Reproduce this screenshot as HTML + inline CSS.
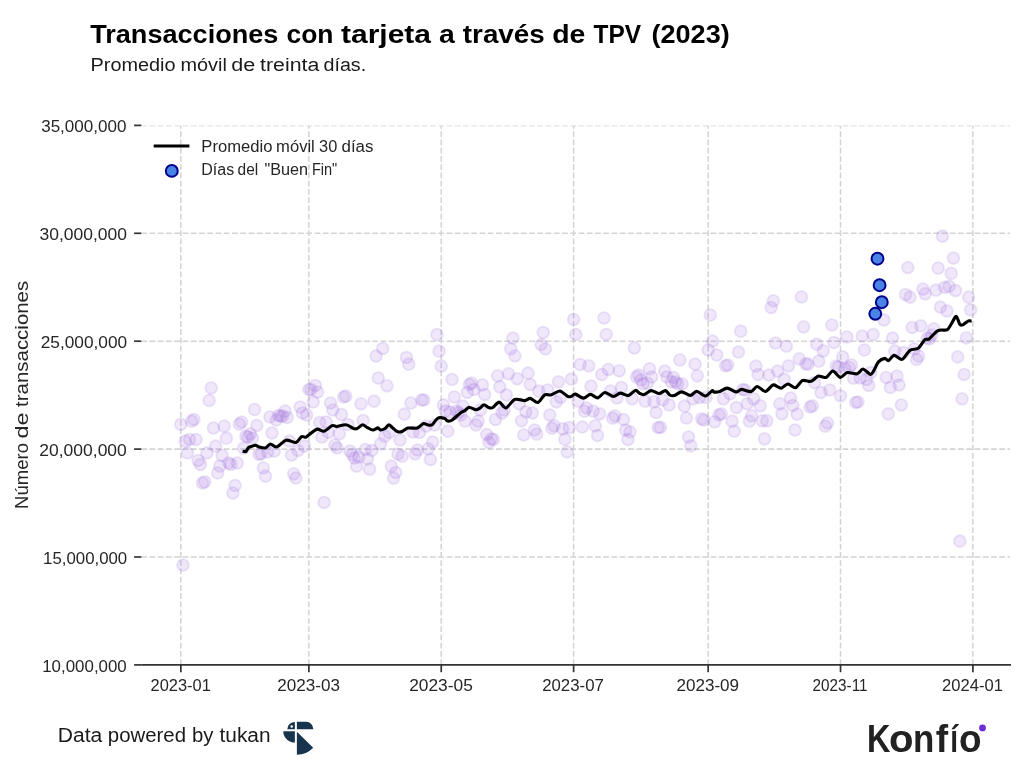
<!DOCTYPE html>
<html lang="es"><head><meta charset="utf-8"><title>Transacciones con tarjeta a través de TPV (2023)</title>
<style>html,body{margin:0;padding:0;background:#fff}body{width:1024px;height:777px;overflow:hidden}svg{display:block}text{font-family:"Liberation Sans",sans-serif}</style>
</head><body>
<svg width="1024" height="777" viewBox="0 0 1024 777">
<rect width="1024" height="777" fill="#fff"/>
<defs><clipPath id="axclip"><rect x="141.3" y="125.4" width="868.9" height="539.5"/></clipPath></defs>
<g stroke="#d4d4d4" stroke-width="1.55" stroke-dasharray="5.75 2.5" fill="none" clip-path="url(#axclip)">
<path d="M141.3 557.00H1010.2"/>
<path d="M141.3 449.10H1010.2"/>
<path d="M141.3 341.20H1010.2"/>
<path d="M141.3 233.30H1010.2"/>
<path d="M141.3 125.40H1010.2"/>
<path d="M180.85 664.9V125.4"/>
<path d="M308.88 664.9V125.4"/>
<path d="M441.25 664.9V125.4"/>
<path d="M573.62 664.9V125.4"/>
<path d="M708.16 664.9V125.4"/>
<path d="M840.53 664.9V125.4"/>
<path d="M972.90 664.9V125.4"/>
</g>
<g fill="#9868dc" fill-opacity="0.15" stroke="#9868dc" stroke-opacity="0.17" stroke-width="1.9">
<circle cx="180.8" cy="424.4" r="5.9"/>
<circle cx="183.0" cy="565.0" r="5.9"/>
<circle cx="185.2" cy="441.2" r="5.9"/>
<circle cx="187.4" cy="453.0" r="5.9"/>
<circle cx="189.5" cy="439.5" r="5.9"/>
<circle cx="191.7" cy="421.2" r="5.9"/>
<circle cx="193.9" cy="419.5" r="5.9"/>
<circle cx="196.0" cy="439.5" r="5.9"/>
<circle cx="198.2" cy="460.5" r="5.9"/>
<circle cx="200.4" cy="464.5" r="5.9"/>
<circle cx="202.5" cy="483.0" r="5.9"/>
<circle cx="204.7" cy="481.8" r="5.9"/>
<circle cx="206.9" cy="453.0" r="5.9"/>
<circle cx="209.1" cy="400.5" r="5.9"/>
<circle cx="211.2" cy="388.0" r="5.9"/>
<circle cx="213.4" cy="428.0" r="5.9"/>
<circle cx="215.6" cy="446.2" r="5.9"/>
<circle cx="217.7" cy="473.0" r="5.9"/>
<circle cx="219.9" cy="466.2" r="5.9"/>
<circle cx="222.1" cy="455.5" r="5.9"/>
<circle cx="224.2" cy="426.2" r="5.9"/>
<circle cx="226.4" cy="438.2" r="5.9"/>
<circle cx="228.6" cy="463.0" r="5.9"/>
<circle cx="230.8" cy="464.5" r="5.9"/>
<circle cx="232.9" cy="493.0" r="5.9"/>
<circle cx="235.1" cy="485.5" r="5.9"/>
<circle cx="237.3" cy="463.0" r="5.9"/>
<circle cx="239.4" cy="424.2" r="5.9"/>
<circle cx="241.6" cy="422.0" r="5.9"/>
<circle cx="243.8" cy="448.0" r="5.9"/>
<circle cx="245.9" cy="436.2" r="5.9"/>
<circle cx="248.1" cy="437.0" r="5.9"/>
<circle cx="250.3" cy="433.8" r="5.9"/>
<circle cx="252.5" cy="438.0" r="5.9"/>
<circle cx="254.6" cy="409.5" r="5.9"/>
<circle cx="256.8" cy="425.5" r="5.9"/>
<circle cx="259.0" cy="454.5" r="5.9"/>
<circle cx="261.1" cy="453.8" r="5.9"/>
<circle cx="263.3" cy="468.0" r="5.9"/>
<circle cx="265.5" cy="476.2" r="5.9"/>
<circle cx="267.6" cy="452.0" r="5.9"/>
<circle cx="269.8" cy="417.0" r="5.9"/>
<circle cx="272.0" cy="433.0" r="5.9"/>
<circle cx="274.2" cy="451.2" r="5.9"/>
<circle cx="276.3" cy="420.0" r="5.9"/>
<circle cx="278.5" cy="415.5" r="5.9"/>
<circle cx="280.7" cy="416.2" r="5.9"/>
<circle cx="282.8" cy="416.2" r="5.9"/>
<circle cx="285.0" cy="411.2" r="5.9"/>
<circle cx="287.2" cy="417.5" r="5.9"/>
<circle cx="289.4" cy="441.2" r="5.9"/>
<circle cx="291.5" cy="455.0" r="5.9"/>
<circle cx="293.7" cy="473.8" r="5.9"/>
<circle cx="295.9" cy="478.0" r="5.9"/>
<circle cx="298.0" cy="450.5" r="5.9"/>
<circle cx="300.2" cy="407.0" r="5.9"/>
<circle cx="302.4" cy="413.0" r="5.9"/>
<circle cx="304.5" cy="446.2" r="5.9"/>
<circle cx="306.7" cy="415.0" r="5.9"/>
<circle cx="308.9" cy="389.5" r="5.9"/>
<circle cx="311.0" cy="389.5" r="5.9"/>
<circle cx="313.2" cy="402.0" r="5.9"/>
<circle cx="315.4" cy="385.5" r="5.9"/>
<circle cx="317.6" cy="392.0" r="5.9"/>
<circle cx="319.7" cy="422.5" r="5.9"/>
<circle cx="321.9" cy="437.0" r="5.9"/>
<circle cx="324.1" cy="502.5" r="5.9"/>
<circle cx="326.2" cy="422.0" r="5.9"/>
<circle cx="328.4" cy="432.5" r="5.9"/>
<circle cx="330.6" cy="403.0" r="5.9"/>
<circle cx="332.8" cy="410.0" r="5.9"/>
<circle cx="334.9" cy="445.0" r="5.9"/>
<circle cx="337.1" cy="448.0" r="5.9"/>
<circle cx="339.3" cy="433.8" r="5.9"/>
<circle cx="341.4" cy="414.5" r="5.9"/>
<circle cx="343.6" cy="397.0" r="5.9"/>
<circle cx="345.8" cy="396.2" r="5.9"/>
<circle cx="347.9" cy="424.5" r="5.9"/>
<circle cx="350.1" cy="451.2" r="5.9"/>
<circle cx="352.3" cy="454.5" r="5.9"/>
<circle cx="354.4" cy="458.0" r="5.9"/>
<circle cx="356.6" cy="466.2" r="5.9"/>
<circle cx="358.8" cy="457.0" r="5.9"/>
<circle cx="361.0" cy="403.8" r="5.9"/>
<circle cx="363.1" cy="420.5" r="5.9"/>
<circle cx="365.3" cy="449.5" r="5.9"/>
<circle cx="367.5" cy="458.8" r="5.9"/>
<circle cx="369.6" cy="469.2" r="5.9"/>
<circle cx="371.8" cy="450.5" r="5.9"/>
<circle cx="374.0" cy="401.2" r="5.9"/>
<circle cx="376.1" cy="356.0" r="5.9"/>
<circle cx="378.3" cy="378.0" r="5.9"/>
<circle cx="380.5" cy="443.8" r="5.9"/>
<circle cx="382.7" cy="348.5" r="5.9"/>
<circle cx="384.8" cy="436.2" r="5.9"/>
<circle cx="387.0" cy="385.8" r="5.9"/>
<circle cx="389.2" cy="432.5" r="5.9"/>
<circle cx="391.3" cy="466.2" r="5.9"/>
<circle cx="393.5" cy="478.1" r="5.9"/>
<circle cx="395.7" cy="472.5" r="5.9"/>
<circle cx="397.9" cy="454.0" r="5.9"/>
<circle cx="400.0" cy="440.0" r="5.9"/>
<circle cx="402.2" cy="456.2" r="5.9"/>
<circle cx="404.4" cy="414.2" r="5.9"/>
<circle cx="406.5" cy="357.5" r="5.9"/>
<circle cx="408.7" cy="364.2" r="5.9"/>
<circle cx="410.9" cy="403.0" r="5.9"/>
<circle cx="413.0" cy="432.0" r="5.9"/>
<circle cx="415.2" cy="453.8" r="5.9"/>
<circle cx="417.4" cy="450.0" r="5.9"/>
<circle cx="419.5" cy="432.5" r="5.9"/>
<circle cx="421.7" cy="400.0" r="5.9"/>
<circle cx="423.9" cy="400.0" r="5.9"/>
<circle cx="426.1" cy="426.2" r="5.9"/>
<circle cx="428.2" cy="448.8" r="5.9"/>
<circle cx="430.4" cy="459.5" r="5.9"/>
<circle cx="432.6" cy="442.0" r="5.9"/>
<circle cx="434.7" cy="425.0" r="5.9"/>
<circle cx="436.9" cy="334.5" r="5.9"/>
<circle cx="439.1" cy="351.2" r="5.9"/>
<circle cx="441.2" cy="366.2" r="5.9"/>
<circle cx="443.4" cy="405.0" r="5.9"/>
<circle cx="445.6" cy="411.2" r="5.9"/>
<circle cx="447.8" cy="431.2" r="5.9"/>
<circle cx="449.9" cy="412.0" r="5.9"/>
<circle cx="452.1" cy="379.5" r="5.9"/>
<circle cx="454.3" cy="397.0" r="5.9"/>
<circle cx="456.4" cy="411.2" r="5.9"/>
<circle cx="458.6" cy="412.5" r="5.9"/>
<circle cx="460.8" cy="415.0" r="5.9"/>
<circle cx="462.9" cy="406.2" r="5.9"/>
<circle cx="465.1" cy="421.2" r="5.9"/>
<circle cx="467.3" cy="392.5" r="5.9"/>
<circle cx="469.5" cy="384.5" r="5.9"/>
<circle cx="471.6" cy="383.0" r="5.9"/>
<circle cx="473.8" cy="389.5" r="5.9"/>
<circle cx="476.0" cy="425.0" r="5.9"/>
<circle cx="478.1" cy="421.2" r="5.9"/>
<circle cx="480.3" cy="410.0" r="5.9"/>
<circle cx="482.5" cy="385.0" r="5.9"/>
<circle cx="484.6" cy="394.5" r="5.9"/>
<circle cx="486.8" cy="434.5" r="5.9"/>
<circle cx="489.0" cy="442.5" r="5.9"/>
<circle cx="491.2" cy="438.8" r="5.9"/>
<circle cx="493.3" cy="439.5" r="5.9"/>
<circle cx="495.5" cy="419.5" r="5.9"/>
<circle cx="497.7" cy="375.8" r="5.9"/>
<circle cx="499.8" cy="386.8" r="5.9"/>
<circle cx="502.0" cy="413.0" r="5.9"/>
<circle cx="504.2" cy="410.0" r="5.9"/>
<circle cx="506.4" cy="395.0" r="5.9"/>
<circle cx="508.5" cy="373.8" r="5.9"/>
<circle cx="510.7" cy="348.8" r="5.9"/>
<circle cx="512.9" cy="338.2" r="5.9"/>
<circle cx="515.0" cy="355.8" r="5.9"/>
<circle cx="517.2" cy="378.8" r="5.9"/>
<circle cx="519.4" cy="403.8" r="5.9"/>
<circle cx="521.5" cy="420.8" r="5.9"/>
<circle cx="523.7" cy="435.0" r="5.9"/>
<circle cx="525.9" cy="411.8" r="5.9"/>
<circle cx="528.0" cy="373.2" r="5.9"/>
<circle cx="530.2" cy="384.5" r="5.9"/>
<circle cx="532.4" cy="413.0" r="5.9"/>
<circle cx="534.6" cy="430.0" r="5.9"/>
<circle cx="536.7" cy="434.2" r="5.9"/>
<circle cx="538.9" cy="391.2" r="5.9"/>
<circle cx="541.1" cy="344.5" r="5.9"/>
<circle cx="543.2" cy="332.5" r="5.9"/>
<circle cx="545.4" cy="348.8" r="5.9"/>
<circle cx="547.6" cy="390.0" r="5.9"/>
<circle cx="549.8" cy="415.0" r="5.9"/>
<circle cx="551.9" cy="428.2" r="5.9"/>
<circle cx="554.1" cy="425.8" r="5.9"/>
<circle cx="556.3" cy="401.8" r="5.9"/>
<circle cx="558.4" cy="381.8" r="5.9"/>
<circle cx="560.6" cy="397.5" r="5.9"/>
<circle cx="562.8" cy="428.8" r="5.9"/>
<circle cx="564.9" cy="439.2" r="5.9"/>
<circle cx="567.1" cy="451.8" r="5.9"/>
<circle cx="569.3" cy="427.5" r="5.9"/>
<circle cx="571.4" cy="379.2" r="5.9"/>
<circle cx="573.6" cy="319.5" r="5.9"/>
<circle cx="575.8" cy="334.5" r="5.9"/>
<circle cx="578.0" cy="401.2" r="5.9"/>
<circle cx="580.1" cy="364.5" r="5.9"/>
<circle cx="582.3" cy="427.0" r="5.9"/>
<circle cx="584.5" cy="411.2" r="5.9"/>
<circle cx="586.6" cy="408.0" r="5.9"/>
<circle cx="588.8" cy="365.8" r="5.9"/>
<circle cx="591.0" cy="386.2" r="5.9"/>
<circle cx="593.1" cy="411.2" r="5.9"/>
<circle cx="595.3" cy="425.8" r="5.9"/>
<circle cx="597.5" cy="435.5" r="5.9"/>
<circle cx="599.7" cy="413.8" r="5.9"/>
<circle cx="601.8" cy="374.5" r="5.9"/>
<circle cx="604.0" cy="318.0" r="5.9"/>
<circle cx="606.2" cy="334.5" r="5.9"/>
<circle cx="608.3" cy="369.5" r="5.9"/>
<circle cx="610.5" cy="391.2" r="5.9"/>
<circle cx="612.7" cy="418.2" r="5.9"/>
<circle cx="614.9" cy="415.8" r="5.9"/>
<circle cx="617.0" cy="398.0" r="5.9"/>
<circle cx="619.2" cy="370.8" r="5.9"/>
<circle cx="621.4" cy="387.5" r="5.9"/>
<circle cx="623.5" cy="419.5" r="5.9"/>
<circle cx="625.7" cy="430.0" r="5.9"/>
<circle cx="627.9" cy="439.5" r="5.9"/>
<circle cx="630.0" cy="431.8" r="5.9"/>
<circle cx="632.2" cy="398.8" r="5.9"/>
<circle cx="634.4" cy="348.0" r="5.9"/>
<circle cx="636.5" cy="376.8" r="5.9"/>
<circle cx="638.7" cy="375.0" r="5.9"/>
<circle cx="640.9" cy="380.0" r="5.9"/>
<circle cx="643.1" cy="383.8" r="5.9"/>
<circle cx="645.2" cy="401.2" r="5.9"/>
<circle cx="647.4" cy="383.2" r="5.9"/>
<circle cx="649.6" cy="368.8" r="5.9"/>
<circle cx="651.7" cy="377.0" r="5.9"/>
<circle cx="653.9" cy="401.8" r="5.9"/>
<circle cx="656.1" cy="412.5" r="5.9"/>
<circle cx="658.2" cy="427.5" r="5.9"/>
<circle cx="660.4" cy="427.5" r="5.9"/>
<circle cx="662.6" cy="400.0" r="5.9"/>
<circle cx="664.8" cy="371.2" r="5.9"/>
<circle cx="666.9" cy="377.0" r="5.9"/>
<circle cx="669.1" cy="405.0" r="5.9"/>
<circle cx="671.3" cy="381.8" r="5.9"/>
<circle cx="673.4" cy="377.5" r="5.9"/>
<circle cx="675.6" cy="381.8" r="5.9"/>
<circle cx="677.8" cy="383.8" r="5.9"/>
<circle cx="679.9" cy="360.0" r="5.9"/>
<circle cx="682.1" cy="383.8" r="5.9"/>
<circle cx="684.3" cy="406.2" r="5.9"/>
<circle cx="686.5" cy="418.0" r="5.9"/>
<circle cx="688.6" cy="437.0" r="5.9"/>
<circle cx="690.8" cy="445.8" r="5.9"/>
<circle cx="693.0" cy="398.8" r="5.9"/>
<circle cx="695.1" cy="364.2" r="5.9"/>
<circle cx="697.3" cy="375.8" r="5.9"/>
<circle cx="699.5" cy="397.5" r="5.9"/>
<circle cx="701.6" cy="418.8" r="5.9"/>
<circle cx="703.8" cy="420.0" r="5.9"/>
<circle cx="706.0" cy="397.5" r="5.9"/>
<circle cx="708.2" cy="350.0" r="5.9"/>
<circle cx="710.3" cy="315.0" r="5.9"/>
<circle cx="712.5" cy="341.2" r="5.9"/>
<circle cx="714.7" cy="421.8" r="5.9"/>
<circle cx="716.8" cy="355.0" r="5.9"/>
<circle cx="719.0" cy="415.0" r="5.9"/>
<circle cx="721.2" cy="413.8" r="5.9"/>
<circle cx="723.4" cy="398.8" r="5.9"/>
<circle cx="725.5" cy="365.8" r="5.9"/>
<circle cx="727.7" cy="365.0" r="5.9"/>
<circle cx="729.9" cy="393.8" r="5.9"/>
<circle cx="732.0" cy="421.2" r="5.9"/>
<circle cx="734.2" cy="431.2" r="5.9"/>
<circle cx="736.4" cy="407.5" r="5.9"/>
<circle cx="738.5" cy="352.0" r="5.9"/>
<circle cx="740.7" cy="331.2" r="5.9"/>
<circle cx="742.9" cy="389.5" r="5.9"/>
<circle cx="745.0" cy="390.0" r="5.9"/>
<circle cx="747.2" cy="403.8" r="5.9"/>
<circle cx="749.4" cy="421.2" r="5.9"/>
<circle cx="751.6" cy="415.8" r="5.9"/>
<circle cx="753.7" cy="398.8" r="5.9"/>
<circle cx="755.9" cy="366.2" r="5.9"/>
<circle cx="758.1" cy="374.5" r="5.9"/>
<circle cx="760.2" cy="405.8" r="5.9"/>
<circle cx="762.4" cy="420.8" r="5.9"/>
<circle cx="764.6" cy="438.8" r="5.9"/>
<circle cx="766.8" cy="420.8" r="5.9"/>
<circle cx="768.9" cy="375.0" r="5.9"/>
<circle cx="771.1" cy="307.5" r="5.9"/>
<circle cx="773.3" cy="300.8" r="5.9"/>
<circle cx="775.4" cy="343.0" r="5.9"/>
<circle cx="777.6" cy="371.2" r="5.9"/>
<circle cx="779.8" cy="403.8" r="5.9"/>
<circle cx="781.9" cy="413.8" r="5.9"/>
<circle cx="784.1" cy="379.2" r="5.9"/>
<circle cx="786.3" cy="346.2" r="5.9"/>
<circle cx="788.5" cy="365.8" r="5.9"/>
<circle cx="790.6" cy="398.0" r="5.9"/>
<circle cx="792.8" cy="405.5" r="5.9"/>
<circle cx="795.0" cy="430.0" r="5.9"/>
<circle cx="797.1" cy="414.2" r="5.9"/>
<circle cx="799.3" cy="358.8" r="5.9"/>
<circle cx="801.5" cy="297.0" r="5.9"/>
<circle cx="803.6" cy="326.8" r="5.9"/>
<circle cx="805.8" cy="363.8" r="5.9"/>
<circle cx="808.0" cy="364.2" r="5.9"/>
<circle cx="810.1" cy="407.0" r="5.9"/>
<circle cx="812.3" cy="405.8" r="5.9"/>
<circle cx="814.5" cy="382.5" r="5.9"/>
<circle cx="816.7" cy="344.2" r="5.9"/>
<circle cx="818.8" cy="361.2" r="5.9"/>
<circle cx="821.0" cy="392.5" r="5.9"/>
<circle cx="823.2" cy="350.8" r="5.9"/>
<circle cx="825.3" cy="426.2" r="5.9"/>
<circle cx="827.5" cy="423.0" r="5.9"/>
<circle cx="829.7" cy="390.0" r="5.9"/>
<circle cx="831.9" cy="325.0" r="5.9"/>
<circle cx="834.0" cy="342.5" r="5.9"/>
<circle cx="836.2" cy="366.2" r="5.9"/>
<circle cx="838.4" cy="367.0" r="5.9"/>
<circle cx="840.5" cy="395.8" r="5.9"/>
<circle cx="842.7" cy="357.0" r="5.9"/>
<circle cx="844.9" cy="368.8" r="5.9"/>
<circle cx="847.0" cy="337.0" r="5.9"/>
<circle cx="849.2" cy="367.5" r="5.9"/>
<circle cx="851.4" cy="365.0" r="5.9"/>
<circle cx="853.5" cy="378.2" r="5.9"/>
<circle cx="855.7" cy="402.5" r="5.9"/>
<circle cx="857.9" cy="402.0" r="5.9"/>
<circle cx="860.1" cy="378.0" r="5.9"/>
<circle cx="862.2" cy="336.2" r="5.9"/>
<circle cx="864.4" cy="350.0" r="5.9"/>
<circle cx="866.6" cy="379.5" r="5.9"/>
<circle cx="868.7" cy="385.5" r="5.9"/>
<circle cx="870.9" cy="372.5" r="5.9"/>
<circle cx="873.1" cy="334.5" r="5.9"/>
<circle cx="883.9" cy="320.0" r="5.9"/>
<circle cx="886.1" cy="377.5" r="5.9"/>
<circle cx="888.3" cy="413.8" r="5.9"/>
<circle cx="890.4" cy="387.5" r="5.9"/>
<circle cx="892.6" cy="338.0" r="5.9"/>
<circle cx="894.8" cy="351.2" r="5.9"/>
<circle cx="897.0" cy="376.2" r="5.9"/>
<circle cx="899.1" cy="385.0" r="5.9"/>
<circle cx="901.3" cy="405.0" r="5.9"/>
<circle cx="903.5" cy="352.5" r="5.9"/>
<circle cx="905.6" cy="294.6" r="5.9"/>
<circle cx="907.8" cy="267.6" r="5.9"/>
<circle cx="910.0" cy="297.1" r="5.9"/>
<circle cx="912.1" cy="327.5" r="5.9"/>
<circle cx="914.3" cy="348.8" r="5.9"/>
<circle cx="916.5" cy="359.5" r="5.9"/>
<circle cx="918.6" cy="356.2" r="5.9"/>
<circle cx="920.8" cy="325.9" r="5.9"/>
<circle cx="923.0" cy="289.1" r="5.9"/>
<circle cx="925.2" cy="293.8" r="5.9"/>
<circle cx="927.3" cy="338.0" r="5.9"/>
<circle cx="929.5" cy="339.0" r="5.9"/>
<circle cx="931.7" cy="335.0" r="5.9"/>
<circle cx="933.8" cy="328.8" r="5.9"/>
<circle cx="936.0" cy="290.2" r="5.9"/>
<circle cx="938.2" cy="268.2" r="5.9"/>
<circle cx="940.4" cy="307.2" r="5.9"/>
<circle cx="942.5" cy="236.2" r="5.9"/>
<circle cx="944.7" cy="287.4" r="5.9"/>
<circle cx="946.9" cy="311.0" r="5.9"/>
<circle cx="949.0" cy="286.4" r="5.9"/>
<circle cx="951.2" cy="273.4" r="5.9"/>
<circle cx="953.4" cy="258.1" r="5.9"/>
<circle cx="955.5" cy="290.6" r="5.9"/>
<circle cx="957.7" cy="356.9" r="5.9"/>
<circle cx="959.9" cy="541.2" r="5.9"/>
<circle cx="962.0" cy="398.8" r="5.9"/>
<circle cx="964.2" cy="374.5" r="5.9"/>
<circle cx="966.4" cy="337.8" r="5.9"/>
<circle cx="968.6" cy="297.2" r="5.9"/>
<circle cx="970.7" cy="309.9" r="5.9"/>
</g>
<path d="M242.6 451.2L245.9 451.8L248.4 447.6C248.8 447.4 250.2 446.8 251.2 446.5C252.2 446.2 254.4 445.2 255.5 445.3C256.6 445.4 257.7 446.5 259.1 446.9C260.5 447.3 263.8 448.3 265.4 447.9C267.0 447.5 268.8 444.1 270.4 444.0C272.0 443.9 274.4 447.4 276.6 446.9C278.8 446.4 283.3 440.9 286.0 440.2C288.7 439.6 293.8 443.0 296.0 442.5C298.2 442.0 300.2 437.3 301.6 436.6C303.0 435.9 304.7 437.7 306.0 437.2C307.3 436.8 309.4 434.2 311.0 433.1C312.6 432.0 315.4 429.4 317.2 429.1C319.1 428.8 322.0 431.7 324.1 431.2C326.2 430.8 330.5 426.3 332.2 425.6C334.0 424.9 334.7 426.7 336.6 426.6C338.5 426.5 343.6 424.5 346.0 424.8C348.4 425.0 351.9 428.0 353.5 428.5C355.1 429.0 356.0 429.0 357.2 428.5C358.5 428.0 361.1 424.9 362.5 424.8C363.9 424.6 365.8 426.8 367.2 427.5C368.7 428.2 371.4 429.9 372.9 430.0C374.4 430.1 376.8 427.9 377.9 427.9C378.9 427.9 379.4 429.9 380.4 430.0C381.4 430.1 383.8 429.2 385.0 428.5C386.2 427.8 387.7 424.9 388.8 424.8C389.8 424.6 391.1 426.6 392.2 427.5C393.4 428.4 395.9 430.9 397.2 431.5C398.6 432.1 400.8 432.0 402.2 431.5C403.7 431.0 405.8 428.6 407.9 428.1C410.0 427.6 415.1 428.7 417.2 428.1C419.4 427.5 422.0 423.9 423.5 423.5C425.0 423.1 426.7 424.8 427.9 425.0C429.1 425.2 430.9 425.7 432.2 424.8C433.6 423.8 436.1 419.0 437.9 418.1C439.6 417.2 443.4 418.0 444.8 418.4C446.1 418.8 446.4 420.8 447.5 421.0C448.6 421.2 450.4 421.2 452.2 420.0C454.1 418.8 459.2 413.8 461.0 412.5C462.8 411.2 463.6 411.3 464.8 410.6C465.9 409.9 467.5 407.4 469.1 407.2C470.7 407.1 474.5 409.7 476.0 409.8C477.5 409.9 478.6 408.8 479.8 408.1C480.9 407.4 482.9 404.8 484.1 404.8C485.3 404.7 487.3 407.1 488.5 407.5C489.7 407.9 491.4 408.3 492.9 407.5C494.4 406.7 497.3 402.0 499.1 402.1C500.9 402.2 503.8 408.3 506.0 407.9C508.2 407.5 512.1 400.4 514.8 399.4C517.4 398.4 522.6 400.7 524.8 400.6C526.9 400.5 528.6 398.1 530.4 398.4C532.2 398.7 535.9 403.0 537.9 402.5C539.9 402.0 542.9 395.8 544.8 394.8C546.6 393.7 548.9 395.5 551.0 395.0C553.1 394.5 557.4 390.8 559.8 391.0C562.1 391.2 566.2 395.8 567.9 396.5C569.6 397.2 570.6 396.6 571.6 396.2C572.6 395.9 573.7 393.8 575.4 394.1C577.1 394.4 581.4 398.1 583.5 398.1C585.6 398.1 588.4 394.4 590.4 394.4C592.4 394.4 595.9 398.2 597.9 397.9C599.9 397.6 602.6 392.7 604.8 392.5C606.9 392.3 611.3 396.4 613.5 396.5C615.7 396.6 618.3 393.2 620.4 393.1C622.5 393.0 626.4 396.0 628.5 395.6C630.6 395.2 633.8 390.7 635.4 390.4C637.0 390.1 638.5 392.9 639.8 393.5C641.0 394.1 642.5 395.0 644.1 394.6C645.7 394.2 648.9 390.8 651.0 390.6C653.1 390.4 657.1 393.5 659.1 393.5C661.1 393.5 663.9 390.4 665.4 390.6C666.9 390.8 668.5 394.3 669.8 395.0C671.0 395.7 672.4 396.0 674.1 395.6C675.8 395.2 679.3 391.9 681.6 391.9C683.9 391.9 688.3 395.5 690.4 395.4C692.5 395.3 694.5 391.2 696.6 391.2C698.7 391.3 703.2 396.1 705.4 396.0C707.6 395.9 711.0 391.1 712.2 390.6C713.5 390.1 713.1 392.0 714.1 392.1C715.1 392.2 717.9 392.1 719.8 391.5C721.6 390.9 725.0 388.0 727.2 388.1C729.5 388.2 734.0 391.7 736.0 391.9C738.0 392.1 739.5 389.4 741.6 389.4C743.7 389.4 748.8 392.0 751.0 391.6C753.2 391.2 755.2 386.5 757.2 386.5C759.3 386.5 763.2 391.7 765.4 391.5C767.6 391.3 771.1 385.6 772.9 385.0C774.6 384.4 776.7 386.5 777.9 386.9C779.1 387.3 780.2 388.5 781.6 388.1C783.0 387.7 786.0 384.0 787.9 384.0C789.8 384.0 793.4 388.2 795.4 387.8C797.4 387.3 800.5 381.5 802.2 380.6C804.0 379.7 806.6 381.2 807.9 381.2C809.2 381.3 810.2 381.9 811.6 381.2C813.0 380.6 816.4 376.9 817.9 376.2C819.4 375.6 821.0 376.8 822.2 376.9C823.5 377.0 825.1 378.1 826.6 377.2C828.1 376.4 831.0 371.0 832.9 371.0C834.8 371.0 838.4 377.2 840.4 377.4C842.4 377.6 844.9 373.0 847.2 372.5C849.6 372.0 855.1 374.2 857.2 373.8C859.4 373.3 861.1 368.9 862.9 369.0C864.7 369.1 868.9 374.1 870.4 374.4C871.9 374.7 872.4 373.0 873.5 371.2C874.6 369.5 876.9 363.7 878.5 361.9C880.1 360.1 883.4 358.6 884.8 358.4C886.1 358.2 887.2 361.0 888.5 360.6C889.8 360.2 892.2 355.4 894.1 355.2C896.0 355.1 900.1 360.1 902.2 359.4C904.4 358.7 907.5 352.0 909.8 350.4C912.0 348.8 916.1 349.8 918.2 348.3C920.3 346.8 923.2 341.0 924.8 339.7C926.3 338.4 927.3 340.2 929.1 338.9C930.9 337.6 935.4 331.9 937.9 330.6C940.4 329.3 945.2 330.7 947.0 329.9C948.8 329.1 949.5 326.8 950.7 325.0C951.9 323.2 954.5 317.9 955.4 316.9C956.3 315.9 956.6 316.7 957.2 317.8C957.9 318.8 959.0 323.4 959.8 324.4C960.5 325.4 961.7 325.2 962.9 324.8C964.1 324.3 967.3 321.4 968.5 320.9C969.7 320.4 971.2 321.2 971.6 321.2" fill="none" stroke="#000" stroke-width="3.1" stroke-linejoin="round" stroke-linecap="butt"/>
<g fill="#4a83e6" stroke="#00008b" stroke-width="2">
<circle cx="877.5" cy="258.7" r="5.95"/>
<circle cx="879.6" cy="285.2" r="5.95"/>
<circle cx="881.8" cy="302.2" r="5.95"/>
<circle cx="875.3" cy="313.8" r="5.95"/>
</g>
<g stroke="#333" stroke-width="1.7" fill="none">
<path d="M141.3 664.9H1011.0"/>
<path d="M134.10000000000002 664.90H141.3"/>
<path d="M134.10000000000002 557.00H141.3"/>
<path d="M134.10000000000002 449.10H141.3"/>
<path d="M134.10000000000002 341.20H141.3"/>
<path d="M134.10000000000002 233.30H141.3"/>
<path d="M134.10000000000002 125.40H141.3"/>
<path d="M180.85 664.9v7.3"/>
<path d="M308.88 664.9v7.3"/>
<path d="M441.25 664.9v7.3"/>
<path d="M573.62 664.9v7.3"/>
<path d="M708.16 664.9v7.3"/>
<path d="M840.53 664.9v7.3"/>
<path d="M972.90 664.9v7.3"/>
</g>
<g fill="#262626" font-size="16.4">
<text x="42.2" y="671.5" textLength="84.6" lengthAdjust="spacingAndGlyphs">10,000,000</text>
<text x="43.08" y="563.6" textLength="84.15" lengthAdjust="spacingAndGlyphs">15,000,000</text>
<text x="39.25" y="455.7" textLength="87.6" lengthAdjust="spacingAndGlyphs">20,000,000</text>
<text x="40.7" y="347.8" textLength="86.42" lengthAdjust="spacingAndGlyphs">25,000,000</text>
<text x="39.45" y="239.9" textLength="87.6" lengthAdjust="spacingAndGlyphs">30,000,000</text>
<text x="41.15" y="132.0" textLength="85.42" lengthAdjust="spacingAndGlyphs">35,000,000</text>
</g>
<g fill="#262626" font-size="16.4">
<text x="150.57" y="691.0" textLength="60.29" lengthAdjust="spacingAndGlyphs">2023-01</text>
<text x="277.25" y="691.0" textLength="62.81" lengthAdjust="spacingAndGlyphs">2023-03</text>
<text x="409.2" y="691.0" textLength="63.6" lengthAdjust="spacingAndGlyphs">2023-05</text>
<text x="542.2" y="691.0" textLength="61.62" lengthAdjust="spacingAndGlyphs">2023-07</text>
<text x="676.45" y="691.0" textLength="62.6" lengthAdjust="spacingAndGlyphs">2023-09</text>
<text x="812.55" y="691.0" textLength="54.99" lengthAdjust="spacingAndGlyphs">2023-11</text>
<text x="942.05" y="691.0" textLength="60.8" lengthAdjust="spacingAndGlyphs">2024-01</text>
</g>
<text transform="translate(28.3,395.4) rotate(-90)" fill="#262626" font-size="18" y="0"><tspan x="-113.5" textLength="65.9" lengthAdjust="spacingAndGlyphs">Número</tspan> <tspan x="-43.2" textLength="26.1" lengthAdjust="spacingAndGlyphs">de</tspan> <tspan x="-11.5" textLength="126.1" lengthAdjust="spacingAndGlyphs">transacciones</tspan></text>
<path d="M153.7 146H189.4" stroke="#000" stroke-width="3" fill="none"/>
<circle cx="171.8" cy="170.9" r="5.95" fill="#4a83e6" stroke="#00008b" stroke-width="2"/>
<text y="151.9" fill="#262626" font-size="16"><tspan x="201.3" textLength="71.1" lengthAdjust="spacingAndGlyphs">Promedio</tspan> <tspan x="276.1" textLength="38.7" lengthAdjust="spacingAndGlyphs">móvil</tspan> <tspan x="319.1" textLength="18.2" lengthAdjust="spacingAndGlyphs">30</tspan> <tspan x="341.5" textLength="31.9" lengthAdjust="spacingAndGlyphs">días</tspan></text>
<text y="175.0" fill="#262626" font-size="16"><tspan x="201.3" textLength="32.9" lengthAdjust="spacingAndGlyphs">Días</tspan> <tspan x="237.6" textLength="20.6" lengthAdjust="spacingAndGlyphs">del</tspan> <tspan x="264.4" textLength="43.6" lengthAdjust="spacingAndGlyphs">"Buen</tspan> <tspan x="311.9" textLength="25.4" lengthAdjust="spacingAndGlyphs">Fin"</tspan></text>
<text y="43" fill="#000" font-size="26" font-weight="bold"><tspan x="90.2" textLength="188.2" lengthAdjust="spacingAndGlyphs">Transacciones</tspan> <tspan x="286.5" textLength="47.0" lengthAdjust="spacingAndGlyphs">con</tspan> <tspan x="341.0" textLength="90.0" lengthAdjust="spacingAndGlyphs">tarjeta</tspan> <tspan x="439.0" textLength="15.8" lengthAdjust="spacingAndGlyphs">a</tspan> <tspan x="462.8" textLength="82.0" lengthAdjust="spacingAndGlyphs">través</tspan> <tspan x="552.2" textLength="33.2" lengthAdjust="spacingAndGlyphs">de</tspan> <tspan x="593.5" textLength="47.5" lengthAdjust="spacingAndGlyphs">TPV</tspan> <tspan x="651.5" textLength="78.2" lengthAdjust="spacingAndGlyphs">(2023)</tspan></text>
<text y="71.3" fill="#1a1a1a" font-size="18"><tspan x="90.5" textLength="85.1" lengthAdjust="spacingAndGlyphs">Promedio</tspan> <tspan x="180.5" textLength="46.4" lengthAdjust="spacingAndGlyphs">móvil</tspan> <tspan x="231.3" textLength="24.0" lengthAdjust="spacingAndGlyphs">de</tspan> <tspan x="260.1" textLength="59.2" lengthAdjust="spacingAndGlyphs">treinta</tspan> <tspan x="323.5" textLength="42.7" lengthAdjust="spacingAndGlyphs">días.</tspan></text>
<text y="742.2" fill="#1a1a1a" font-size="19.5"><tspan x="57.8" textLength="44.5" lengthAdjust="spacingAndGlyphs">Data</tspan> <tspan x="107.8" textLength="78.2" lengthAdjust="spacingAndGlyphs">powered</tspan> <tspan x="192.0" textLength="21.5" lengthAdjust="spacingAndGlyphs">by</tspan> <tspan x="219.5" textLength="51.0" lengthAdjust="spacingAndGlyphs">tukan</tspan></text>
<g fill="#17344f">
<path d="M294.9 722V729.2H287.3A7.6 7.3 0 0 1 294.9 722Z"/>
<path d="M296.9 721.7H306.3A7 7.5 0 0 1 313.3 729.2H296.9Z"/>
<path d="M283.3 731.2H294.9V742.6A11.6 11.4 0 0 1 283.3 731.2Z"/>
<path d="M296.9 731.8L313.2 747.7A23 23 0 0 1 296.9 754.8Z"/>
</g>
<circle cx="291.7" cy="726.5" r="1.2" fill="#fff"/>
<text y="752.1" fill="#222" font-size="39.5" font-weight="bold"><tspan x="867.0" textLength="23.37" lengthAdjust="spacingAndGlyphs">K</tspan><tspan x="889.1" textLength="24.49" lengthAdjust="spacingAndGlyphs">o</tspan><tspan x="913.0" textLength="21.32" lengthAdjust="spacingAndGlyphs">n</tspan><tspan x="935.8" textLength="12.36" lengthAdjust="spacingAndGlyphs">f</tspan><tspan x="950.2" textLength="7.81" lengthAdjust="spacingAndGlyphs">í</tspan><tspan x="959.1" textLength="22.6" lengthAdjust="spacingAndGlyphs">o</tspan></text>
<circle cx="982.5" cy="727.9" r="3.4" fill="#6b2fd9"/>
</svg>
</body></html>
